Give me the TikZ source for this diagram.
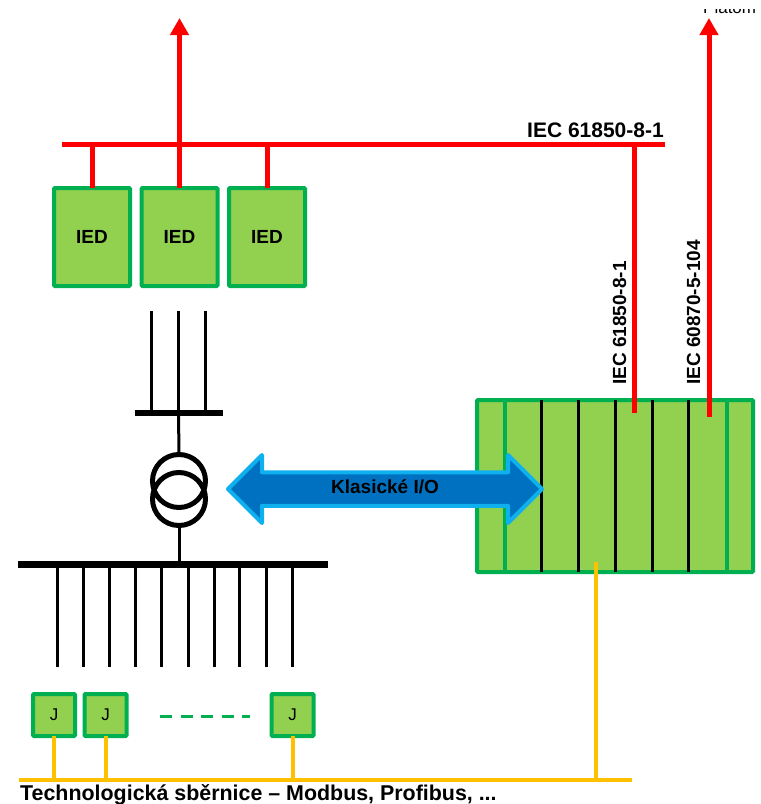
\documentclass[tikz,border=0pt]{standalone}
\usepackage{fontspec}
\setmainfont{Liberation Sans}
\usepackage{xcolor}
\usepackage{tikz}
\usetikzlibrary{arrows.meta,positioning,shapes.arrows,calc}
\definecolor{boxgreen}{HTML}{92D050}
\definecolor{edgegreen}{HTML}{00B050}
\definecolor{techyellow}{HTML}{FFC000}
\definecolor{arrowblue}{HTML}{0070C0}
\definecolor{arrowedge}{HTML}{0FB0EE}

\begin{document}
\begin{tikzpicture}[
			x=1pt, y=-1pt,
			font=\fontsize{19}{21}\selectfont\bfseries,
			device/.style={
					draw=edgegreen, fill=boxgreen, line width=4pt, rounded corners=1pt,
					minimum width=76pt, minimum height=98pt, outer sep=0pt,
					align=center
				},
			junction/.style={
					device, minimum width=42pt, minimum height=42pt,
					font=\fontsize{17}{19}\selectfont
				},
			redbus/.style={red, line width=5pt},
			redup/.style={redbus, -{Triangle[length=17pt,width=18pt]}},
			techbus/.style={techyellow, line width=4pt},
			feeder/.style={black, line width=3pt},
			busbar/.style={black, line width=7pt},
			coil/.style={circle, draw, line width=5pt, minimum size=53pt, outer sep=0pt, inner sep=0pt},
			slot/.style={line width=3pt},
			tag/.style={inner sep=0pt},
			widetag/.style={tag, font=\fontsize{21}{23}\selectfont\bfseries},
			node distance=11.5pt
		]
		\useasboundingbox (0,0) rectangle (761,804);

		% IED row
		\node[device] (iedA) at (92,237) {IED};
		\node[device, right=of iedA] (iedB) {IED};
		\node[device, right=of iedB] (iedC) {IED};

		% Red bus on top
		\coordinate (busW) at (62,144);
		\coordinate (busE) at (665,144);
		\coordinate (upA) at (179,18);
		\coordinate (upB) at (709,18);
		\draw[redbus] (busW) -- (busE);
		\draw[redbus] (iedA.north) -- (iedA.north |- busW);
		\draw[redbus] (iedC.north) -- (iedC.north |- busW);
		\draw[redup] (iedB.north) -- (iedB.north |- upA);
		\node[widetag, anchor=base east] (busLabel) at (664,137) {IEC 61850-8-1};

		% Transformer with its bars
		\coordinate (barT) at (178.5,413);
		\coordinate (barB) at (172.5,564);
		\draw[line width=6pt] ($(barT)+(-44,0)$) -- ($(barT)+(44,0)$);
		\draw[busbar] ($(barB)+(-155,0)$) -- ($(barB)+(155,0)$);
		\foreach \dx in {-27,0,27}
		\draw[feeder] ($(barT)+(\dx,0)$) -- ($(barT)+(\dx,-102)$);
		\node[coil] (coilT) at (179,481) {};
		\node[coil] (coilB) at (179,499) {};
		\draw[feeder] (barT) -- (coilT.north);
		\draw[feeder] (coilB.south) -- (coilB.south |- barB);

		% Feeders
		\foreach \fx in {57,83,109.5,135,161.5,188,214,239.5,266,292}
		\draw[feeder] (\fx,564) -- (\fx,667);

		% J boxes
		\node[junction] (jA) at (54,715) {J};
		\node[junction] (jB) at (105.5,715) {J};
		\node[junction] (jC) at (292.5,715) {J};
		\coordinate (dashW) at (160,716);
		\coordinate (dashE) at (250,716);
		\draw[edgegreen, line width=3pt, dash pattern=on 12pt off 8.5pt] (dashW) -- (dashE);

		% Rack
		\node[device, minimum width=276pt, minimum height=172pt] (rack) at (615,486) {};
		\foreach \sx in {505,727}
		\draw[edgegreen, line width=4pt] (\sx,400) -- (\sx,572);
		\foreach \sx in {541,578,615,652,688}
		\draw[slot] (\sx,400) -- (\sx,572);

		% Rack links
		\draw[redbus] (634,413) -- (busE -| 634,144);
		\draw[redup] (709,417) -- (upB);
		\node[tag, rotate=90, anchor=base west] (labelA) at (626,385) {IEC 61850-8-1};
		\node[tag, rotate=90, anchor=base west] (labelB) at (700,385) {IEC 60870-5-104};
		\begin{scope}
			\clip (700,9) rectangle (761,14);
			\node[tag, anchor=base west, font=\fontsize{17}{19}\selectfont] (platom) at (703,13) {Platom};
		\end{scope}

		% Klasicke I/O arrow
		\node[double arrow, draw=arrowedge, fill=arrowblue, line width=4pt, line join=round,
			double arrow head extend=17pt, double arrow head indent=0pt,
			minimum height=314pt, minimum width=68pt,
			text height=11pt, text depth=3pt, inner ysep=7.5pt, inner xsep=0pt,
			font=\fontsize{19}{21}\selectfont\bfseries] (classic) at (385,489) {Klasické I/O};

		% Technology bus
		\coordinate (techW) at (19,780);
		\coordinate (techE) at (632,780);
		\draw[techbus] (techW) -- (techE);
		\draw[techbus] (jA.south) -- (jA.south |- techW);
		\draw[techbus] (jB.south) -- (jB.south |- techW);
		\draw[techbus] (jC.south) -- (jC.south |- techW);
		\draw[techbus] (596,562) -- (596,780);
		\node[widetag, font=\fontsize{21.4}{23}\selectfont\bfseries, anchor=base west] (techLabel) at (20,800) {Technologická sběrnice – Modbus, Profibus, ...};
	\end{tikzpicture}
\end{document}
